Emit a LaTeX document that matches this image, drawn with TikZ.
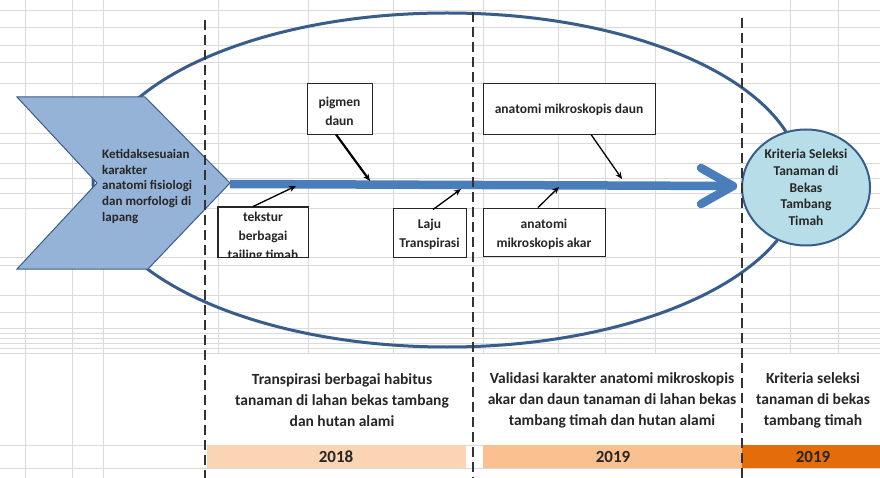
\documentclass[tikz,border=0pt]{standalone}
\usepackage{fontspec}
\setmainfont{Carlito}
\usetikzlibrary{arrows.meta,shapes.geometric,calc}
\definecolor{dblue}{HTML}{385D8A}
\definecolor{mblue}{HTML}{4A7EBB}
\definecolor{chevfill}{HTML}{95B3D7}
\definecolor{circfill}{HTML}{B7DEE8}
\definecolor{barA}{HTML}{FBD4B4}
\definecolor{barB}{HTML}{FAC090}
\definecolor{barC}{HTML}{E46C0A}
\definecolor{gridc}{HTML}{DADADA}
\tikzset{
  gridline/.style={draw=gridc, line width=0.7pt},
  vdash/.style={draw=black!80, line width=2.2pt, dash pattern=on 10pt off 5pt},
  ell/.style={draw=dblue, line width=3pt},
  box/.style={draw=black!85, fill=white, line width=0.9pt, inner sep=0pt},
  lbl/.style={font=\fontsize{13.5}{19}\selectfont\bfseries, text=black!85, align=center, inner sep=0pt},
  bottomlbl/.style={font=\fontsize{15.5}{21}\selectfont\bfseries, text=black!85, align=center, inner sep=0pt},
  yearlbl/.style={font=\fontsize{17}{20}\selectfont\bfseries, text=black!85, inner sep=0pt},
  sarrow/.style={draw=black, line width=1.3pt, -{Stealth[length=7pt,width=6pt]}},
  mainline/.style={draw=mblue, line width=8.5pt},
}
\begin{document}
\begin{tikzpicture}[x=1pt,y=-1pt]
\useasboundingbox (0,0) rectangle (880,478);
\fill[white] (0,0) rectangle (880,478);
% spreadsheet grid
\foreach \x in {25,72,103} \draw[gridline] (\x,0) -- (\x,478);
\foreach \x in {218,308,393,483,558,605,655,790,838} \draw[gridline] (\x,0) -- (\x,353);
\foreach \y in {10,27,45,62,83,133,143,163,178,193,208,257,265,295,312,328,333,338,343,348,353} \draw[gridline] (0,\y) -- (880,\y);
\foreach \y in {445,468} \draw[gridline] (0,\y) -- (880,\y);

% big ellipse
\draw[ell] (447,180) ellipse [x radius=354pt, y radius=167pt];

% chevron
\draw[fill=chevfill, draw=dblue, line width=1pt, line join=miter]
  (17,97) -- (145,97) -- (230,183) -- (148,269) -- (17,269) -- (97,183) -- cycle;
\coordinate (tip) at (230,184);
\node[font=\fontsize{13}{15.7}\selectfont\bfseries, text=black!85, align=left, anchor=west, inner sep=0pt]
  (chevtxt) at (102,186.5) {Ketidaksesuaian\\karakter\\anatomi fisiologi\\dan morfologi di\\lapang};

% main arrow
\coordinate (ahead) at (733,186);
\draw[mainline] (tip) -- (ahead);
\draw[mainline, line cap=round, line join=round] (701,168) -- (ahead) -- (701,204);

% criterion circle
\node[ellipse, draw=dblue, line width=2pt, fill=circfill, minimum width=128pt, minimum height=116pt,
  font=\fontsize{13.5}{16.8}\selectfont\bfseries, text=black!85, align=center, inner sep=0pt]
  (crit) at (806,187.5) {Kriteria Seleksi\\Tanaman di\\Bekas\\Tambang\\Timah};

% boxes
\node[box, minimum width=65pt, minimum height=51pt] (pig) at (339.5,108.5) {};
\node[lbl] (pigt) at (339.5,111) {pigmen\\daun};

\node[box, minimum width=90pt, minimum height=50pt] (tek) at (263,232) {};
\begin{scope}
\clip (tek.north west) rectangle (tek.south east);
\node[lbl] (tekt) at (263,237) {tekstur\\berbagai\\tailing timah};
\end{scope}
\draw[draw=black!85, line width=0.9pt] (tek.north west) rectangle (tek.south east);

\node[box, minimum width=73pt, minimum height=49pt] (laju) at (429.5,232.5) {};
\node[lbl] (lajut) at (429.5,234.5) {Laju\\Transpirasi};

\node[box, minimum width=172pt, minimum height=51pt] (amd) at (569,108.5) {};
\node[lbl] (amdt) at (569,110) {anatomi mikroskopis daun};

\node[box, minimum width=122pt, minimum height=48pt] (ama) at (544,232) {};
\node[lbl] (amat) at (544,234) {anatomi\\mikroskopis akar};

% small arrows to the spine
\coordinate (e1) at (370,181);
\coordinate (e2) at (296,186);
\coordinate (e3) at (461,189);
\coordinate (e4) at (622,179);
\coordinate (e5) at (559,187);
\draw[sarrow, line width=2.2pt] ($(pig.south)+(-3.5,0)$) -- (e1);
\draw[sarrow] ($(tek.north)+(-10,0)$) -- (e2);
\draw[sarrow] ($(laju.north)+(3.5,2)$) -- (e3);
\draw[sarrow] ($(amd.south)+(22,0)$) -- (e4);
\draw[sarrow] ($(ama.north)+(-6,0)$) -- (e5);

% bottom descriptions
\node[bottomlbl] (d1) at (342,400) {Transpirasi berbagai habitus\\tanaman di lahan bekas tambang\\dan hutan alami};
\node[bottomlbl] (d2) at (612,400) {Validasi karakter anatomi mikroskopis\\akar dan daun tanaman di lahan bekas\\tambang timah dan hutan alami};
\node[bottomlbl] (d3) at (813,400) {Kriteria seleksi\\tanaman di bekas\\tambang timah};

% year bars
\fill[barA] (207,445) rectangle (466,468);
\fill[barB] (483,445) rectangle (742,468);
\fill[barC] (742,445) rectangle (880,468);
\node[yearlbl] (y1) at (336,457) {2018};
\node[yearlbl] (y2) at (613,457) {2019};
\node[yearlbl] (y3) at (813,457) {2019};

% dashed phase separators
\draw[vdash] (205,20) -- (205,478);
\draw[vdash] (473,12) -- (473,478);
\draw[vdash] (742,18) -- (742,478);
\end{tikzpicture}
\end{document}
